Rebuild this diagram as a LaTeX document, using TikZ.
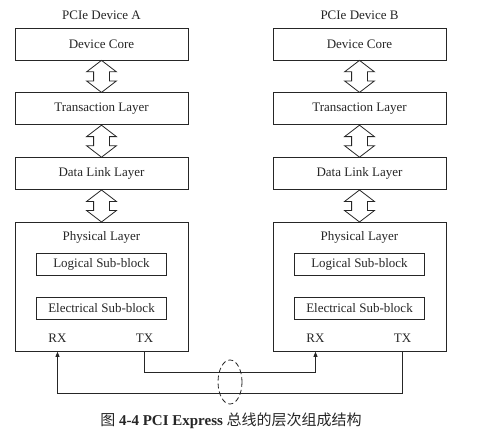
\documentclass[tikz,border=0pt]{standalone}
\usepackage{fontspec}
\setmainfont{Liberation Serif}
\newfontfamily\cjk{Noto Sans CJK SC}
\usetikzlibrary{positioning}
\usetikzlibrary{calc}
\usetikzlibrary{shapes.arrows}
\usetikzlibrary{arrows.meta}
\definecolor{ink}{HTML}{262626}

\begin{document}
\begin{tikzpicture}[x=1pt, y=1pt]
	% ------- style -------
	\tikzset{%
		layer/.style={draw=ink, line width=0.8pt, minimum width=173pt, minimum height=32pt,
			inner sep=0pt, font=\fontsize{13}{15}\selectfont, text=ink},
		subblock/.style={layer, minimum width=130pt, minimum height=22pt},
		updown/.style={double arrow, draw=ink, line width=0.8pt, rotate=90,
			minimum height=32pt, minimum width=29pt, inner xsep=0pt, inner ysep=7.5pt,
			double arrow head extend=7pt, double arrow tip angle=105},
		plain/.style={font=\fontsize{13}{15}\selectfont, text=ink, inner sep=0pt},
		wire/.style={draw=ink, line width=0.8pt},
		node distance = 32pt,
	}
	\useasboundingbox (0,0) rectangle (482,-438);
	
	% ------- devices -------
	\foreach \dev/\cx in {A/101.5, B/359.5} {
		\node[plain] (title\dev) at (\cx,-15) {PCIe Device \dev};
		\node[layer] (core\dev) at (\cx,-44) {Device Core};
		\node[layer, below=of core\dev] (trans\dev) {Transaction Layer};
		\node[layer, below=of trans\dev] (link\dev) {Data Link Layer};
		\node[layer, below=of link\dev, minimum height=129pt] (phy\dev) {};
		\node[plain, below=9pt of phy\dev.north] (phyt\dev) {Physical Layer};
		\node[subblock] (logic\dev) at (\cx,-264) {Logical Sub-block};
		\node[subblock] (elec\dev) at (\cx,-308) {Electrical Sub-block};
		\node[plain] (rx\dev) at (\cx-44,-338) {RX};
		\node[plain] (tx\dev) at (\cx+43,-338) {TX};
		\foreach \a/\b in {core/trans, trans/link, link/phy}
			\node[updown] (\a-\b-\dev) at ($(\a\dev.south)!.5!(\b\dev.north)$) {};
	}
	
	% ------- link -------
	\coordinate (busAB) at (0,-372);
	\coordinate (busBA) at (0,-393);
	\draw[wire, -{Triangle[length=5pt, width=4pt]}]
		(txA |- phyA.south) |- (busAB -| rxB) -- (rxB |- phyB.south);
	\draw[wire, -{Triangle[length=5pt, width=4pt]}]
		(txB |- phyB.south) |- (busBA -| rxA) -- (rxA |- phyA.south);
	\draw[wire, dash pattern=on 5pt off 3pt] (230,-382) ellipse [x radius=12, y radius=22];
	
	% ------- caption -------
	\node[font=\fontsize{15}{17}\selectfont, text=ink] (caption) at (231,-421)
		{{\cjk 图} \textbf{4-4 PCI Express} {\cjk 总线的层次组成结构}};
\end{tikzpicture}
\end{document}
